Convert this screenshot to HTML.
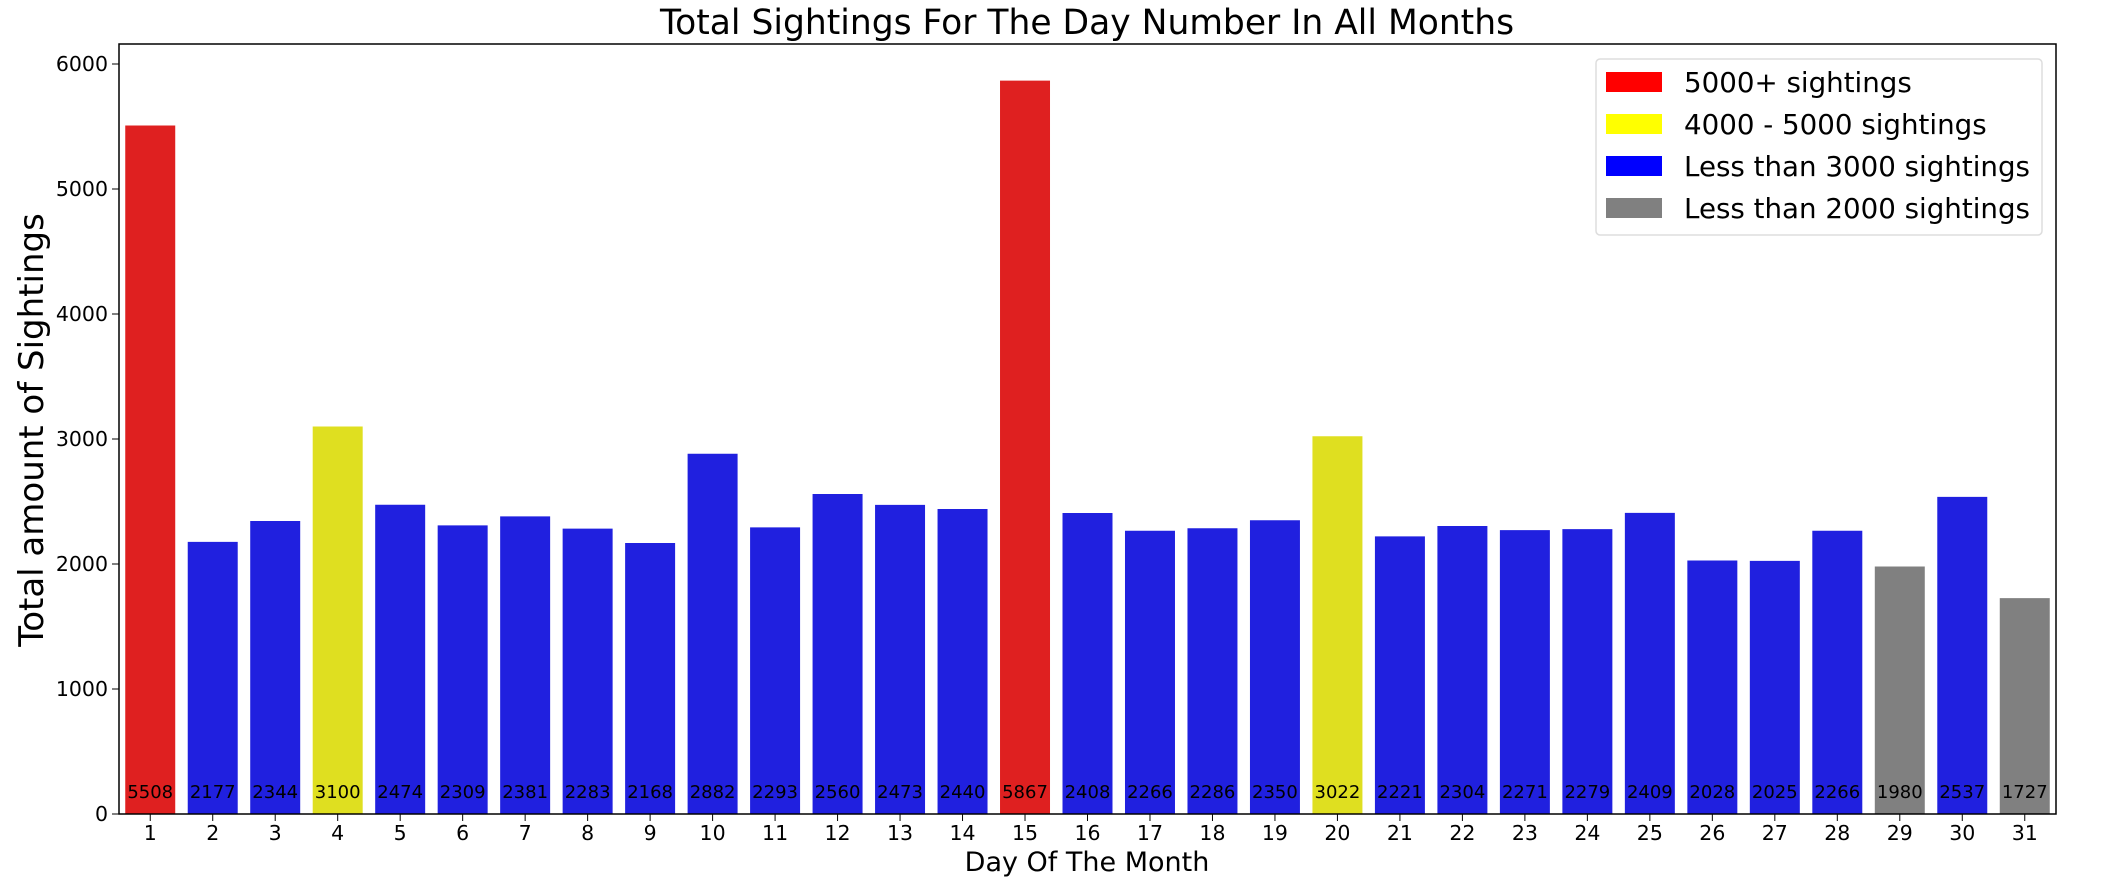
<!DOCTYPE html>
<html><head><meta charset="utf-8"><style>
body{margin:0;background:#fff;}
svg{display:block;font-family:"DejaVu Sans","Liberation Sans",sans-serif;}
</style></head><body>
<svg id="chart" width="2105" height="894" viewBox="0 0 2105 894">
<text x="1087" y="34" font-size="34.5" text-anchor="middle">Total Sightings For The Day Number In All Months</text>
<text transform="translate(43,430) rotate(-90)" font-size="34" text-anchor="middle">Total amount of Sightings</text>
<text x="1087" y="871" font-size="27" text-anchor="middle">Day Of The Month</text>
<g id="bars"></g>
<g id="yticks"></g>
<g id="xticks"></g>
<rect x="119" y="44" width="1937" height="770" fill="none" stroke="#000" stroke-width="1.5"/>
<g>
<rect x="1596" y="59" width="446" height="176" rx="4" fill="#fff" stroke="#ddd" stroke-width="1.5"/>
<rect x="1606" y="72" width="56" height="20" fill="#ff0000"/>
<text x="1684" y="92" font-size="27.7">5000+ sightings</text>
<rect x="1606" y="114" width="56" height="20" fill="#ffff00"/>
<text x="1684" y="134" font-size="27.7">4000 - 5000 sightings</text>
<rect x="1606" y="156" width="56" height="20" fill="#0000ff"/>
<text x="1684" y="176" font-size="27.7">Less than 3000 sightings</text>
<rect x="1606" y="198" width="56" height="20" fill="#808080"/>
<text x="1684" y="218" font-size="27.7">Less than 2000 sightings</text>
</g>
</svg>
<script>
const days = [1,2,3,4,5,6,7,8,9,10,11,12,13,14,15,16,17,18,19,20,21,22,23,24,25,26,27,28,29,30,31];
const sightings = [5508,2177,2344,3100,2474,2309,2381,2283,2168,2882,2293,2560,2473,2440,5867,2408,2266,2286,2350,3022,2221,2304,2271,2279,2409,2028,2025,2266,1980,2537,1727];
const yTicks = [0,1000,2000,3000,4000,5000,6000];
const NS="http://www.w3.org/2000/svg";
const L=119,R=2056,B=814,PX1000=125;
const slot=(R-L)/days.length;
function xc(i){return L+(i+0.5)*slot;}
function yv(v){return B-v*PX1000/1000;}
function color(v){if(v>=5000)return "#df2020";if(v>=3000)return "#dfdf20";if(v>=2000)return "#2020df";return "#808080";}
const bars=document.getElementById('bars');
days.forEach((d,i)=>{
  const v=sightings[i];
  const r=document.createElementNS(NS,'rect');
  r.setAttribute('x',xc(i)-slot*0.4);r.setAttribute('width',slot*0.8);
  r.setAttribute('y',yv(v));r.setAttribute('height',B-yv(v));
  r.setAttribute('fill',color(v));
  
  
  bars.appendChild(r);
  const t=document.createElementNS(NS,'text');
  t.setAttribute('x',xc(i));t.setAttribute('y',798);
  t.setAttribute('font-size','18');t.setAttribute('text-anchor','middle');
  t.textContent=v;
  
  
  bars.appendChild(t);
});
const yt=document.getElementById('yticks');
yTicks.forEach(v=>{
  const l=document.createElementNS(NS,'line');
  l.setAttribute('x1',L-7);l.setAttribute('x2',L);l.setAttribute('y1',yv(v));l.setAttribute('y2',yv(v));
  l.setAttribute('stroke','#000');
  
  
  yt.appendChild(l);
  const t=document.createElementNS(NS,'text');
  t.setAttribute('x',L-11);t.setAttribute('y',yv(v)+7);
  t.setAttribute('font-size','20.5');t.setAttribute('text-anchor','end');
  t.textContent=v;
  
  
  yt.appendChild(t);
});
const xt=document.getElementById('xticks');
days.forEach((d,i)=>{
  const l=document.createElementNS(NS,'line');
  l.setAttribute('x1',xc(i));l.setAttribute('x2',xc(i));l.setAttribute('y1',B);l.setAttribute('y2',B+7);
  l.setAttribute('stroke','#000');
  
  
  xt.appendChild(l);
  const t=document.createElementNS(NS,'text');
  t.setAttribute('x',xc(i));t.setAttribute('y',B+26);
  t.setAttribute('font-size','20.5');t.setAttribute('text-anchor','middle');
  t.textContent=d;
  
  
  xt.appendChild(t);
});
</script>
</body></html>
